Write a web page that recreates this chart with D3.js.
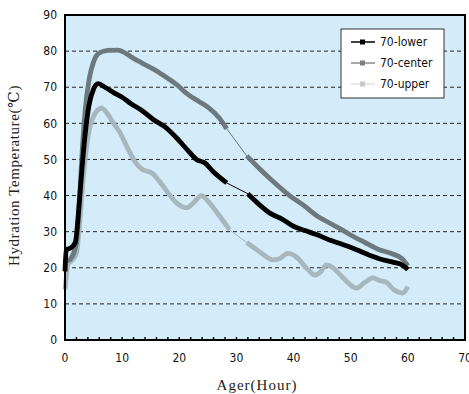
<!DOCTYPE html>
<html>
<head>
<meta charset="utf-8">
<script src="https://cdn.jsdelivr.net/npm/d3@7/dist/d3.min.js"></script>
<style>
  body { margin: 0; background: #fff; }
  .tick-label { font-family: "Liberation Sans Narrow", "DejaVu Sans Condensed", "Liberation Sans", sans-serif; font-size: 12px; fill: #111; }
  .title { font-family: "Liberation Serif", "DejaVu Serif", serif; font-size: 15px; fill: #222; }
  .legend-text { font-family: "Liberation Sans Narrow", "DejaVu Sans Condensed", "Liberation Sans", sans-serif; font-size: 12px; fill: #111; }
</style>
</head>
<body>
<div id="chart"></div>
<script>
// hours / temperature readings
var lowerData = [
  [0, 19], [0.2, 25], [1, 25.5], [1.8, 27], [2.5, 38], [3, 48], [3.6, 58], [4.2, 65], [5, 69.5],
  [5.8, 71], [7, 70], [8.5, 68.5], [10, 67.2], [11.5, 65.5], [13.5, 63.5], [15.5, 61], [17.5, 59],
  [19.5, 56], [21.5, 52.5], [23, 50], [24.5, 49], [26, 46.5], [28.3, 43.5],
  [32, 40.5], [34, 37.5], [36, 35], [38, 33.5], [40, 31.5], [42, 30.3], [44, 29.2], [46.3, 27.7],
  [48, 26.8], [50.3, 25.5], [52.5, 24], [55, 22.5], [57.5, 21.5], [59, 20.8], [60, 19.5]
];
var centerData = [
  [0, 22], [0.5, 22], [1.2, 23], [2, 27], [2.5, 38], [3, 52], [3.5, 63], [4.2, 72], [5, 77],
  [6, 79.5], [7.5, 80.2], [9.3, 80.3], [10.5, 79.5], [12, 78], [13.5, 76.7], [15.5, 75], [17.5, 73],
  [19.5, 70.8], [21.5, 68], [23.5, 66], [25, 64.5], [27, 61.5], [28.3, 58.5],
  [31.8, 51], [34, 47.5], [36, 44.5], [39.3, 40], [42, 37], [44, 34.5], [46.3, 32.4], [48.5, 30.5],
  [50.3, 28.8], [52.5, 27], [55, 25], [57, 24], [59, 22.5], [60, 20.5]
];
var upperData = [
  [0, 14], [0.2, 17], [0.5, 21], [1.2, 22], [2, 24], [2.6, 33], [3.2, 45], [4, 56], [5, 62],
  [6.4, 64.2], [7.5, 62.5], [8.5, 60], [9.6, 57.5], [11, 53], [12.2, 49.5], [13.3, 47.5], [15.4, 46],
  [16.5, 44], [18.4, 40], [19.5, 38], [21.3, 36.6], [22.5, 38], [23.9, 40], [25, 38.5], [26.5, 35.5],
  [28.8, 30.5],
  [31.8, 27], [34, 24.5], [36.4, 22.2], [37.5, 22.5], [39, 24], [40.5, 23], [42.5, 19.5], [43.7, 18],
  [44.8, 19], [45.7, 20.8], [46.9, 20], [48.5, 17.5], [50, 15.2], [51, 14.4], [52.5, 16], [53.9, 17.2],
  [55, 16.5], [56.2, 16], [57.5, 14], [59.1, 13], [60, 14.8]
];
// stretch where no readings were logged (drawn as a thin connector)
var lowerGap = [28.3, 32];
var centerGap = [28.3, 31.8];
var upperGap = [28.8, 31.8];

var seriesNames = ["70-lower", "70-center", "70-upper"];
var xTicks = [0, 10, 20, 30, 40, 50, 60, 70];
var yTicks = [0, 10, 20, 30, 40, 50, 60, 70, 80, 90];

var series = [
  { name: seriesNames[0], data: lowerData, gap: lowerGap, color: "#000000", legendLine: "#000000", legendMark: "#000000" },
  { name: seriesNames[1], data: centerData, gap: centerGap, color: "#6c797e", legendLine: "#8c8c8c", legendMark: "#7f7f7f" },
  { name: seriesNames[2], data: upperData, gap: upperGap, color: "#a6b7be", legendLine: "#e2e2e2", legendMark: "#c8c8c8" }
];

var margin = { top: 15, right: 4, bottom: 54, left: 65 },
    width = 469 - margin.left - margin.right,
    height = 394 - margin.top - margin.bottom;

var svg = d3.select("#chart").append("svg")
    .attr("width", 469)
    .attr("height", 394)
  .append("g")
    .attr("transform", "translate(" + margin.left + "," + margin.top + ")");

var x = d3.scaleLinear().domain([0, 70]).range([0, width]);
var y = d3.scaleLinear().domain([0, 90]).range([height, 0]);

svg.append("rect")
    .attr("width", width)
    .attr("height", height)
    .attr("fill", "#d4ecf9");

// dashed grid
svg.selectAll(".grid")
    .data(yTicks.filter(function(d) { return d > 0 && d < 90; }))
    .enter().append("line")
    .attr("class", "grid")
    .attr("x1", 0)
    .attr("x2", width)
    .attr("y1", function(d) { return y(d); })
    .attr("y2", function(d) { return y(d); })
    .attr("stroke", "#222")
    .attr("stroke-width", 1)
    .attr("stroke-dasharray", "4,3");

// minor ticks every 2 hours, pointing inside
svg.selectAll(".xminor")
    .data(d3.range(0, 71, 2))
    .enter().append("line")
    .attr("class", "xminor")
    .attr("x1", function(d) { return x(d); })
    .attr("x2", function(d) { return x(d); })
    .attr("y1", height)
    .attr("y2", height - 3)
    .attr("stroke", "#000")
    .attr("stroke-width", 1.5);

var line = d3.line()
    .x(function(d) { return x(d[0]); })
    .y(function(d) { return y(d[1]); });

var smooth = d3.line()
    .curve(d3.curveMonotoneX)
    .x(function(d) { return x(d[0]); })
    .y(function(d) { return y(d[1]); });

series.slice().reverse().forEach(function(s) {
  svg.append("path")
      .datum(s.data)
      .attr("fill", "none")
      .attr("stroke", s.color)
      .attr("stroke-width", 1)
      .attr("d", line);

  var before = s.data.filter(function(d) { return d[0] <= s.gap[0]; });
  var after = s.data.filter(function(d) { return d[0] >= s.gap[1]; });
  [before, after].forEach(function(part) {
    svg.append("path")
        .datum(part)
        .attr("fill", "none")
        .attr("stroke", s.color)
        .attr("stroke-width", 4.8)
        .attr("stroke-linejoin", "round")
        .attr("stroke-linecap", "butt")
        .attr("d", smooth);
  });
});

// frame
svg.append("rect")
    .attr("width", width)
    .attr("height", height)
    .attr("fill", "none")
    .attr("stroke", "#000")
    .attr("stroke-width", 2);

svg.selectAll(".xlab")
    .data(xTicks)
    .enter().append("text")
    .attr("class", "tick-label")
    .attr("x", function(d) { return x(d); })
    .attr("y", height + 22)
    .attr("text-anchor", "middle")
    .text(function(d) { return d; });

svg.selectAll(".ylab")
    .data(yTicks)
    .enter().append("text")
    .attr("class", "tick-label")
    .attr("x", -8)
    .attr("y", function(d) { return y(d); })
    .attr("dy", "0.35em")
    .attr("text-anchor", "end")
    .text(function(d) { return d; });

svg.append("text")
    .attr("class", "title")
    .attr("x", width / 2 - 8)
    .attr("y", height + 50)
    .attr("text-anchor", "middle")
    .style("letter-spacing", "1px")
    .text("Ager(Hour)");

svg.append("text")
    .attr("class", "title")
    .attr("transform", "translate(" + (-46) + "," + (height / 2 - 2) + ") rotate(-90)")
    .attr("text-anchor", "middle")
    .style("letter-spacing", "0.6px")
    .text("Hydration Temperature(\u2103)");

// legend
var legend = svg.append("g")
    .attr("transform", "translate(" + (341 - margin.left) + "," + (29 - margin.top) + ")");

legend.append("rect")
    .attr("width", 103)
    .attr("height", 69)
    .attr("fill", "#fff")
    .attr("stroke", "#333")
    .attr("stroke-width", 1);

var item = legend.selectAll(".legend-item")
    .data(series)
    .enter().append("g")
    .attr("class", "legend-item")
    .attr("transform", function(d, i) { return "translate(0," + (13 + i * 21) + ")"; });

item.append("line")
    .attr("x1", 10)
    .attr("x2", 34)
    .attr("stroke", function(d) { return d.legendLine; })
    .attr("stroke-width", 1.5);

item.append("rect")
    .attr("x", 19)
    .attr("y", -2.5)
    .attr("width", 5)
    .attr("height", 5)
    .attr("fill", function(d) { return d.legendMark; });

item.append("text")
    .attr("class", "legend-text")
    .attr("x", 39)
    .attr("dy", "0.35em")
    .text(function(d) { return d.name; });
</script>
</body>
</html>
